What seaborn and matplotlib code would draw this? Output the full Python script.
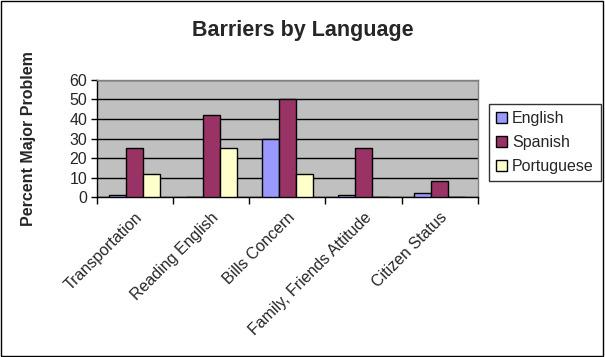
import matplotlib
matplotlib.use("Agg")
import matplotlib.pyplot as plt
import seaborn as sns
import pandas as pd
import numpy as np

categories = ["Transportation", "Reading English", "Bills Concern",
              "Family, Friends Attitude", "Citizen Status"]
languages = ["English", "Spanish", "Portuguese"]
english = [1, 0, 30, 1, 2]
spanish = [25, 42, 50, 25, 8]
portuguese = [12, 25, 12, 0, 0]
y_ticks = [0, 10, 20, 30, 40, 50, 60]

colors = ["#9999FF", "#993366", "#FFFFCC"]

rows = []
for lang, vals in zip(languages, [english, spanish, portuguese]):
    for c, v in zip(categories, vals):
        rows.append({"Category": c, "Language": lang, "Value": v})
df = pd.DataFrame(rows)

sns.set_style("white")
plt.rcParams['font.family'] = ['Liberation Sans', 'DejaVu Sans']

fig = plt.figure(figsize=(6.05, 3.57), dpi=100)
ax = fig.add_axes([0.160, 0.448, 0.630, 0.328])

sns.barplot(data=df, x="Category", y="Value", hue="Language",
            order=categories, hue_order=languages, palette=colors,
            width=0.67, gap=0, edgecolor="black", linewidth=1,
            saturation=1, ax=ax, legend=True, zorder=3)

ax.set_facecolor("#C0C0C0")
ax.set_xlim(-0.5, len(categories) - 0.5)
ax.set_ylim(0, 60)
ax.set_yticks(y_ticks)
ax.yaxis.grid(True, color="black", linewidth=1, zorder=1)
ax.set_axisbelow(True)
for s in ["top", "right"]:
    ax.spines[s].set_color("#808080")
    ax.spines[s].set_linewidth(1)
for s in ["left", "bottom"]:
    ax.spines[s].set_color("black")
    ax.spines[s].set_linewidth(1)

ax.set_xticks(range(len(categories)))
ax.set_xticklabels(categories, rotation=45, ha="right", rotation_mode="anchor",
                   fontsize=11.5)
ax.tick_params(axis="x", which="major", length=0, pad=9)
ax.set_xticks(np.arange(-0.5, len(categories) + 0.5, 1), minor=True)
ax.tick_params(axis="x", which="minor", length=5, width=1, direction="out",
               color="black", bottom=True)
ax.tick_params(axis="y", length=4, width=1, direction="out", color="black",
               labelsize=11.5, left=True, pad=3)

ax.set_xlabel("")
ax.set_ylabel("Percent Major Problem", fontsize=11.5, fontweight="bold", labelpad=24)

fig.suptitle("Barriers by Language", x=0.5, y=0.945, fontsize=15.5,
             fontweight="bold")

handles, labels = ax.get_legend_handles_labels()
ax.legend(handles, labels, loc="upper left", bbox_to_anchor=(1.029, 0.795),
          frameon=True, fancybox=False, edgecolor="black", fontsize=11.5,
          handlelength=0.7, handleheight=0.7, handletextpad=0.3,
          labelspacing=0.55, borderpad=0.45, borderaxespad=0)
leg = ax.get_legend()
leg.get_frame().set_linewidth(1)

fig.patches.append(plt.Rectangle((0.002, 0.003), 0.994, 0.994,
                                 transform=fig.transFigure, fill=False,
                                 edgecolor="black", linewidth=1))

fig.savefig("out.png", dpi=100)
